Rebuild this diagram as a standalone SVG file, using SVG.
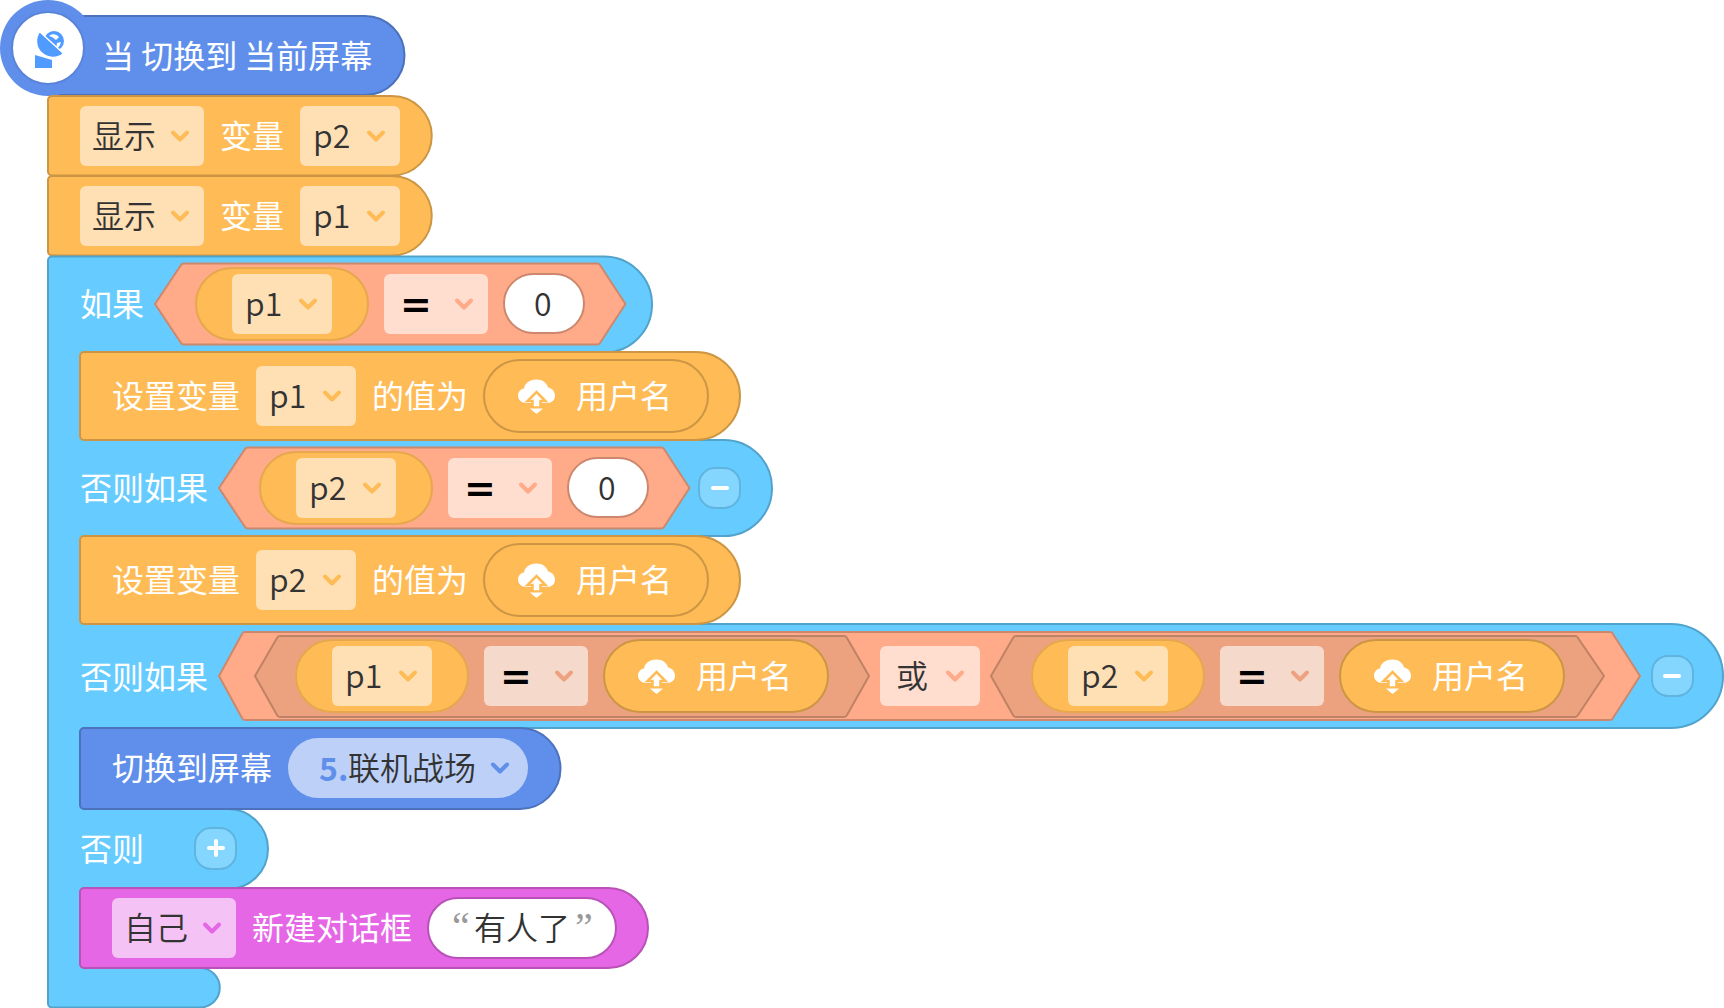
<svg xmlns="http://www.w3.org/2000/svg" width="1724" height="1008" viewBox="0 0 1724 1008">
<style>
text{font-family:"Noto Sans CJK SC","Noto Sans",sans-serif;font-size:32px;fill:#fff}
.d{fill:#333;font-weight:350}
.eq{font-family:"DejaVu Sans",sans-serif;font-weight:bold;font-size:38px;fill:#000;text-anchor:middle}
.q{font-family:"Liberation Serif",serif;font-size:40px;fill:#999}
.org{fill:#ffbb55;stroke:#cc9644;stroke-width:2;stroke-linejoin:round}
.blu{fill:#5f8feb;stroke:#4c72bc;stroke-width:2;stroke-linejoin:round}
.cya{fill:#66ccff;stroke:#52a3cc;stroke-width:2;stroke-linejoin:round}
.pnk{fill:#e667e6;stroke:#b852b8;stroke-width:2;stroke-linejoin:round}
.sal{fill:#ffaa88;stroke:#cc886d;stroke-width:2;stroke-linejoin:round}
.nest{fill:#eda27f;stroke:#be8266;stroke-width:2;stroke-linejoin:round}
.ddo{fill:#ffe0b5}
.dds{fill:#ffddcf}
.ddn{fill:#f5d9cb}
.ddp{fill:#f4c2f4}
.ddb{fill:#bdd0f7}
.vp{fill:#ffbb55;stroke:#e5a84e;stroke-width:2}
.up{fill:#ffbb55;stroke:#cc9644;stroke-width:2}
.wp{fill:#fff;stroke:#cc886d;stroke-width:2}
.btn{fill:#85d6ff;stroke:#5fb5e0;stroke-width:2}
.ch{fill:none;stroke-width:4;stroke-linecap:round;stroke-linejoin:round}
</style>
<defs>
<path id="chev" d="M-7 -3.500L0 3.500L7 -3.500"/>
<g id="cloud">
<path fill="#fff" d="M-10 7C-15 7-18.500 3.500-18.500 -0.500C-18.500-4-16-7-12.500-7.500C-12-12.500-7-16.500 0-16.500C6-16.500 10.500-13 11.500-8.500C15.500-8 18.500-4.500 18.500 0C18.500 4 15 7 11 7Z"/>
<path fill="#fff" stroke="#ffbb55" stroke-width="2.500" d="M0 -4L9 5H4V11.500H-4V5H-9Z"/>
<path fill="#fff" d="M-6.500 12.500H6.500L0 18Z"/>
</g>
</defs>
<g id="connectors"/>
<g id="hat">
<path class="blu" d="M48 16H365A39.500 39.500 0 0 1 365 95H48Z"/>
<circle cx="48" cy="48" r="48" fill="#5f8feb"/>
<circle cx="48" cy="48" r="36" fill="#fff" stroke="#5a84d8" stroke-width="2"/>
<circle cx="54" cy="41" r="10" fill="#4f9bff"/>
<path d="M49 36C52 33 57 34 59 37L56 40L52 37Z M57 43L61 42C60 46 58 48 56 49Z" fill="#fff"/>
<path d="M35 55V68H52V60Z" fill="#4f9bff"/>
<path d="M39.500 31.500L63.500 53.500A16.400 16.400 0 0 1 39.500 31.500Z" fill="#4f9bff" stroke="#fff" stroke-width="1.500" stroke-linejoin="round"/>
<text x="102" y="68">当 切换到 当前屏幕</text>
</g>
<g id="show-p2">
<path class="org" d="M52 96H392A39.500 39.500 0 0 1 392 175.500H52A4 4 0 0 1 48 171.500V100A4 4 0 0 1 52 96Z"/>
<rect class="ddo" x="80" y="106" width="124" height="60" rx="6"/>
<text class="d" x="92" y="148">显示</text>
<use href="#chev" class="ch" stroke="#ffbb55" x="180" y="136"/>
<text x="220" y="148">变量</text>
<rect class="ddo" x="300" y="106" width="100" height="60" rx="6"/>
<text class="d" x="313" y="148">p2</text>
<use href="#chev" class="ch" stroke="#ffbb55" x="376" y="136"/>
</g>
<g id="show-p1">
<path class="org" d="M52 176H392A39.500 39.500 0 0 1 392 255.500H52A4 4 0 0 1 48 251.500V180A4 4 0 0 1 52 176Z"/>
<rect class="ddo" x="80" y="186" width="124" height="60" rx="6"/>
<text class="d" x="92" y="228">显示</text>
<use href="#chev" class="ch" stroke="#ffbb55" x="180" y="216"/>
<text x="220" y="228">变量</text>
<rect class="ddo" x="300" y="186" width="100" height="60" rx="6"/>
<text class="d" x="313" y="228">p1</text>
<use href="#chev" class="ch" stroke="#ffbb55" x="376" y="216"/>
</g>
<g id="if-block">
<path class="cya" d="M52 256.500H604A48 48 0 0 1 604 352.500H84V440H724A48 48 0 0 1 724 536H84V624H1671A52 52 0 0 1 1671 728H84V809H228A40 40 0 0 1 228 889H84V968H200A19.500 19.500 0 0 1 200 1007.500H52A4 4 0 0 1 48 1003.500V260.500A4 4 0 0 1 52 256.500Z"/>
<text x="80" y="316">如果</text>
<text x="80" y="500">否则如果</text>
<text x="80" y="689">否则如果</text>
<text x="80" y="861">否则</text>
</g>
<g id="cond-1">
<path class="sal" d="M155 304L181 265A3 3 0 0 1 184 263.500H597A3 3 0 0 1 600 265L625.500 304L600 343A3 3 0 0 1 597 344.500H184A3 3 0 0 1 181 343Z"/>
<rect class="vp" x="196" y="268" width="172" height="72" rx="36"/>
<rect class="ddo" x="232" y="274" width="100" height="60" rx="6"/>
<text class="d" x="245" y="316">p1</text>
<use href="#chev" class="ch" stroke="#ffbb55" x="308" y="304"/>
<rect class="dds" x="384" y="274" width="104" height="60" rx="6"/>
<text class="eq" x="416" y="317">=</text>
<use href="#chev" class="ch" stroke="#ffaa88" x="464" y="304"/>
<rect class="wp" x="504" y="274" width="80" height="59" rx="29.500"/>
<text class="d" x="534" y="316">0</text>
</g>
<g id="set-p1">
<path class="org" d="M84 352H696A44 44 0 0 1 696 440H84A4 4 0 0 1 80 436V356A4 4 0 0 1 84 352Z"/>
<text x="112" y="408">设置变量</text>
<rect class="ddo" x="256" y="366" width="100" height="60" rx="6"/>
<text class="d" x="269" y="408">p1</text>
<use href="#chev" class="ch" stroke="#ffbb55" x="332" y="396"/>
<text x="372" y="408">的值为</text>
<rect class="up" x="484" y="360" width="224" height="72" rx="36"/>
<use href="#cloud" x="536.500" y="396"/>
<text x="576" y="408">用户名</text>
</g>
<g id="cond-2">
<path class="sal" d="M219 488L245 449A3 3 0 0 1 248 447.500H661A3 3 0 0 1 664 449L689.500 488L664 527A3 3 0 0 1 661 528.500H248A3 3 0 0 1 245 527Z"/>
<rect class="vp" x="260" y="452" width="172" height="72" rx="36"/>
<rect class="ddo" x="296" y="458" width="100" height="60" rx="6"/>
<text class="d" x="309" y="500">p2</text>
<use href="#chev" class="ch" stroke="#ffbb55" x="372" y="488"/>
<rect class="dds" x="448" y="458" width="104" height="60" rx="6"/>
<text class="eq" x="480" y="501">=</text>
<use href="#chev" class="ch" stroke="#ffaa88" x="528" y="488"/>
<rect class="wp" x="568" y="458" width="80" height="59" rx="29.500"/>
<text class="d" x="598" y="500">0</text>
</g>
<g id="remove-1">
<rect class="btn" x="699" y="468" width="41" height="40" rx="16"/>
<path d="M713 488H727" stroke="#fff" stroke-width="4" stroke-linecap="round"/>
</g>
<g id="set-p2">
<path class="org" d="M84 536H696A44 44 0 0 1 696 624H84A4 4 0 0 1 80 620V540A4 4 0 0 1 84 536Z"/>
<text x="112" y="592">设置变量</text>
<rect class="ddo" x="256" y="550" width="100" height="60" rx="6"/>
<text class="d" x="269" y="592">p2</text>
<use href="#chev" class="ch" stroke="#ffbb55" x="332" y="580"/>
<text x="372" y="592">的值为</text>
<rect class="up" x="484" y="544" width="224" height="72" rx="36"/>
<use href="#cloud" x="536.500" y="580"/>
<text x="576" y="592">用户名</text>
</g>
<g id="cond-3">
<path class="sal" d="M219 676L242 634A3 3 0 0 1 245 632H1610A3 3 0 0 1 1613 634L1640 676L1613 718A3 3 0 0 1 1610 720H245A3 3 0 0 1 242 718Z"/>
<path class="nest" d="M255 676L277 638A3 3 0 0 1 280 636H844A3 3 0 0 1 847 638L869 676L847 715A3 3 0 0 1 844 717H280A3 3 0 0 1 277 715Z"/>
<rect class="vp" x="296" y="640" width="172" height="72" rx="36"/>
<rect class="ddo" x="332" y="646" width="100" height="60" rx="6"/>
<text class="d" x="345" y="688">p1</text>
<use href="#chev" class="ch" stroke="#ffbb55" x="408" y="676"/>
<rect class="ddn" x="484" y="646" width="104" height="60" rx="6"/>
<text class="eq" x="516" y="689">=</text>
<use href="#chev" class="ch" stroke="#eda27f" x="564" y="676"/>
<rect class="up" x="604" y="640" width="224" height="72" rx="36"/>
<use href="#cloud" x="656.500" y="676"/>
<text x="696" y="688">用户名</text>
<rect class="dds" x="880" y="646" width="100" height="60" rx="6"/>
<text class="d" x="896" y="688">或</text>
<use href="#chev" class="ch" stroke="#ffaa88" x="955" y="676"/>
<path class="nest" d="M991 676L1013 638A3 3 0 0 1 1016 636H1575A3 3 0 0 1 1578 638L1604 676L1578 715A3 3 0 0 1 1575 717H1016A3 3 0 0 1 1013 715Z"/>
<rect class="vp" x="1032" y="640" width="172" height="72" rx="36"/>
<rect class="ddo" x="1068" y="646" width="100" height="60" rx="6"/>
<text class="d" x="1081" y="688">p2</text>
<use href="#chev" class="ch" stroke="#ffbb55" x="1144" y="676"/>
<rect class="ddn" x="1220" y="646" width="104" height="60" rx="6"/>
<text class="eq" x="1252" y="689">=</text>
<use href="#chev" class="ch" stroke="#eda27f" x="1300" y="676"/>
<rect class="up" x="1340" y="640" width="224" height="72" rx="36"/>
<use href="#cloud" x="1392.500" y="676"/>
<text x="1432" y="688">用户名</text>
</g>
<g id="remove-2">
<rect class="btn" x="1652" y="656" width="41" height="40" rx="16"/>
<path d="M1665 676H1679" stroke="#fff" stroke-width="4" stroke-linecap="round"/>
</g>
<g id="switch">
<path class="blu" d="M84 728H520A40.500 40.500 0 0 1 520 809H84A4 4 0 0 1 80 805V732A4 4 0 0 1 84 728Z"/>
<text x="112" y="780">切换到屏幕</text>
<rect class="ddb" x="288" y="738" width="240" height="60" rx="30"/>
<text x="319" y="781" style="fill:#5f8feb;font-weight:bold">5.</text>
<text class="d" x="348" y="780">联机战场</text>
<use href="#chev" class="ch" stroke="#5f8feb" x="500" y="768"/>
</g>
<g id="add-else">
<rect class="btn" x="195" y="828" width="41" height="41" rx="16"/>
<path d="M216 841V855M209 848H223" stroke="#fff" stroke-width="4" stroke-linecap="round"/>
</g>
<g id="dialog">
<path class="pnk" d="M84 888H608A40 40 0 0 1 608 968H84A4 4 0 0 1 80 964V892A4 4 0 0 1 84 888Z"/>
<rect class="ddp" x="112" y="898" width="124" height="60" rx="6"/>
<text class="d" x="124" y="940">自己</text>
<use href="#chev" class="ch" stroke="#e667e6" x="212" y="928"/>
<text x="252" y="940">新建对话框</text>
<rect x="428" y="898" width="188" height="60" rx="30" fill="#fff" stroke="#b852b8" stroke-width="2"/>
<text class="q" x="452" y="940">“</text>
<text class="d" x="474" y="940">有人了</text>
<text class="q" x="575" y="940">”</text>
</g>
</svg>
